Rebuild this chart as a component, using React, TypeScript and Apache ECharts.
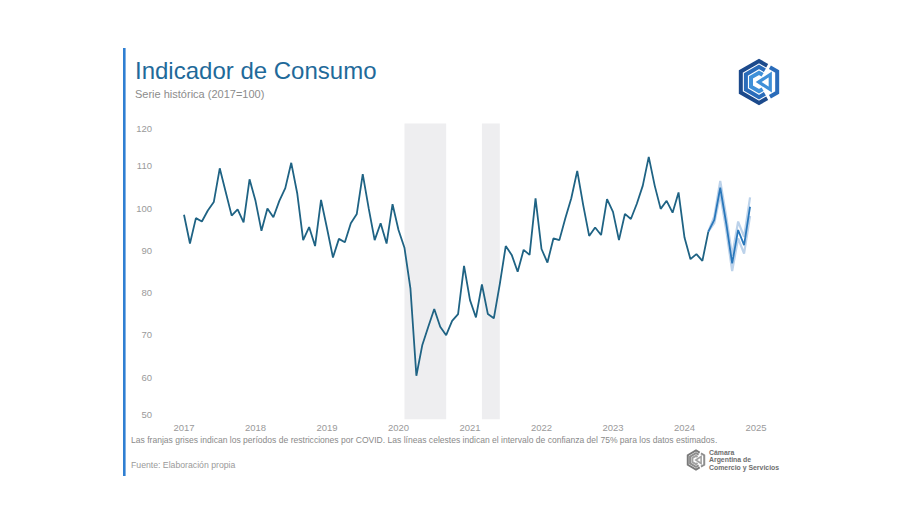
import React, { useEffect, useRef } from "react";
import * as echarts from "echarts";

// Monthly index, Jan 2017 – Dec 2024 (2017 = 100)
const values2017: number[] = [98.4, 91.6, 97.6, 96.8, 99.4, 101.4, 109.4, 103.8, 98.2, 99.7, 96.6, 106.8];
const values2018: number[] = [101.7, 94.6, 99.9, 97.8, 101.7, 104.7, 110.7, 103.5, 92.4, 95.5, 91.0, 101.9];
const values2019: number[] = [95.2, 88.3, 92.7, 91.9, 96.4, 98.6, 108.0, 99.9, 92.4, 96.4, 91.6, 100.9];
const values2020: number[] = [94.8, 90.6, 81.0, 60.3, 67.6, 71.9, 76.1, 71.9, 69.9, 73.3, 74.9, 86.3];
const values2021: number[] = [78.2, 74.1, 81.9, 74.9, 73.9, 82.0, 91.0, 88.9, 84.9, 90.1, 88.9, 102.3];
const values2022: number[] = [90.3, 87.1, 92.8, 92.4, 97.6, 102.3, 108.8, 100.7, 93.4, 95.4, 93.6, 102.1];
const values2023: number[] = [99.1, 92.4, 98.6, 97.4, 101.0, 105.3, 112.1, 105.3, 99.8, 101.7, 98.9, 103.7];
const values2024: number[] = [93.0, 87.9, 89.1, 87.5, 94.4, 97.2, 104.8, 96.4, 86.9, 94.8, 91.2, 100.3];

// Estimated months (May–Dec 2024) and their 75% confidence interval
const estimatedStart = "2024-05";
const upper75: number[] = [94.4, 98.0, 106.4, 98.0, 88.7, 96.8, 93.2, 102.5];
const lower75: number[] = [94.4, 96.4, 103.2, 94.8, 85.1, 92.8, 89.2, 98.1];

// COVID restriction periods
const covidPeriods: [string, string][] = [
  ["2020-02", "2020-09"],
  ["2021-03", "2021-06"],
];

const yTicks = { min: 50, max: 120, step: 10 };

const values: number[] = [
  ...values2017, ...values2018, ...values2019, ...values2020,
  ...values2021, ...values2022, ...values2023, ...values2024,
];

const months: string[] = [];
for (let y = 2017; y <= 2025; y++) {
  for (let m = 1; m <= 12; m++) {
    if (y === 2025 && m > 1) break;
    months.push(`${y}-${String(m).padStart(2, "0")}`);
  }
}

const FONT = "'Liberation Sans', Arial, sans-serif";

function hexPoints(cx: number, cy: number, r: number): number[][] {
  // pointy-top hexagon: top, upper-right, lower-right, bottom, lower-left, upper-left
  const w = r * Math.cos(Math.PI / 6);
  return [
    [cx, cy - r],
    [cx + w, cy - r / 2],
    [cx + w, cy + r / 2],
    [cx, cy + r],
    [cx - w, cy + r / 2],
    [cx - w, cy - r / 2],
  ];
}

function cStripe(cx: number, cy: number, r: number) {
  const p = hexPoints(cx, cy, r);
  const t = 0.45;
  const startX = p[0][0] + (p[1][0] - p[0][0]) * t;
  const startY = p[0][1] + (p[1][1] - p[0][1]) * t;
  const endX = p[3][0] + (p[2][0] - p[3][0]) * t;
  const endY = p[3][1] + (p[2][1] - p[3][1]) * t;
  return [[startX, startY], p[0], p[5], p[4], p[3], [endX, endY]];
}

function logoElements(cx: number, cy: number, r: number, colors: string[], lw: number) {
  const els: any[] = [];
  const radii = [r, r * 0.72, r * 0.44];
  radii.forEach((rr, k) => {
    els.push({
      type: "polyline",
      shape: { points: cStripe(cx, cy, rr) },
      style: { stroke: colors[k], lineWidth: lw, fill: null, lineJoin: "miter" },
      silent: true,
    });
  });
  const p = hexPoints(cx, cy, r);
  els.push({
    type: "polyline",
    shape: {
      points: [
        [p[0][0] + (p[1][0] - p[0][0]) * 0.6, p[0][1] + (p[1][1] - p[0][1]) * 0.6],
        p[1], p[2],
        [p[3][0] + (p[2][0] - p[3][0]) * 0.6, p[3][1] + (p[2][1] - p[3][1]) * 0.6],
      ],
    },
    style: { stroke: colors[1], lineWidth: lw, fill: null, lineJoin: "miter" },
    silent: true,
  });
  const w = r * Math.cos(Math.PI / 6);
  els.push({
    type: "polygon",
    shape: {
      points: [
        [cx + w * 0.62, cy - r * 0.36],
        [cx + w * 0.62, cy + r * 0.36],
        [cx - w * 0.02, cy],
      ],
    },
    style: { stroke: colors[2], lineWidth: lw * 0.8, fill: null, lineJoin: "miter" },
    silent: true,
  });
  return els;
}

export default function App() {
  const ref = useRef<HTMLDivElement>(null);

  useEffect(() => {
    if (!ref.current) return;
    const chart = echarts.init(ref.current, undefined, { renderer: "svg" });

    const estIdx = months.indexOf(estimatedStart);
    const observed = values.map((v, i) => (i <= estIdx ? v : null));
    const estimated = values.map((v, i) => (i >= estIdx ? v : null));
    const upper = months.map((_, i) => (i >= estIdx && i - estIdx < upper75.length ? upper75[i - estIdx] : null));
    const lower = months.map((_, i) => (i >= estIdx && i - estIdx < lower75.length ? lower75[i - estIdx] : null));

    const option: any = {
      animation: false,
      backgroundColor: "#ffffff",
      textStyle: { fontFamily: FONT },
      grid: { left: 184, right: 156, top: 123.5, bottom: 93.7, containLabel: false },
      xAxis: {
        type: "category",
        data: months,
        boundaryGap: false,
        axisLine: { show: false },
        axisTick: { show: false },
        splitLine: { show: false },
        axisLabel: {
          interval: (i: number) => i % 12 === 0,
          formatter: (v: string) => v.slice(0, 4),
          color: "#9a9a9a",
          fontSize: 9.5,
          margin: 3,
          fontFamily: FONT,
        },
      },
      yAxis: {
        type: "value",
        min: yTicks.min,
        max: yTicks.max,
        interval: yTicks.step,
        axisLine: { show: false },
        axisTick: { show: false },
        splitLine: { show: false },
        axisLabel: {
          color: "#9a9a9a",
          fontSize: 9.5,
          margin: 32,
          fontFamily: FONT,
          verticalAlignMaxLabel: "top",
          verticalAlignMinLabel: "bottom",
        },
      },
      series: [
        {
          name: "Límite superior",
          type: "line",
          data: upper,
          symbol: "none",
          lineStyle: { color: "#bcd2ea", width: 2.2 },
          z: 2,
          silent: true,
        },
        {
          name: "Límite inferior",
          type: "line",
          data: lower,
          symbol: "none",
          lineStyle: { color: "#bcd2ea", width: 2.2 },
          z: 2,
          silent: true,
        },
        {
          name: "Indicador de Consumo",
          type: "line",
          data: observed,
          symbol: "none",
          lineStyle: { color: "#1f6384", width: 1.8 },
          z: 3,
          markArea: {
            silent: true,
            itemStyle: { color: "#eeeef0" },
            data: covidPeriods.map(([a, b]) => [{ xAxis: a }, { xAxis: b }]),
          },
        },
        {
          name: "Estimado",
          type: "line",
          data: estimated,
          symbol: "none",
          lineStyle: { color: "#2a78bb", width: 1.8 },
          z: 4,
        },
      ],
      graphic: [
        {
          type: "rect",
          shape: { x: 123, y: 48, width: 2.6, height: 428 },
          style: { fill: "#2f7fd2" },
          silent: true,
        },
        {
          type: "text",
          x: 135,
          y: 70,
          style: {
            text: "Indicador de Consumo",
            fill: "#1f6a9a",
            font: `24px ${FONT}`,
            textVerticalAlign: "middle",
          },
          silent: true,
        },
        {
          type: "text",
          x: 135,
          y: 94,
          style: {
            text: "Serie histórica (2017=100)",
            fill: "#8c8c8c",
            font: `11px ${FONT}`,
            textVerticalAlign: "middle",
          },
          silent: true,
        },
        {
          type: "text",
          x: 131,
          y: 440,
          style: {
            text:
              "Las franjas grises indican los períodos de restricciones por COVID. Las líneas celestes indican el intervalo de confianza del 75% para los datos estimados.",
            fill: "#8a8a8a",
            font: `8.55px ${FONT}`,
            textVerticalAlign: "middle",
          },
          silent: true,
        },
        {
          type: "text",
          x: 131,
          y: 465,
          style: {
            text: "Fuente: Elaboración propia",
            fill: "#9a9a9a",
            font: `8.7px ${FONT}`,
            textVerticalAlign: "middle",
          },
          silent: true,
        },
        ...logoElements(759, 82, 21, ["#1c4a8c", "#2a6cba", "#3f90d8"], 4),
        ...logoElements(696, 460, 9.5, ["#7a7a7a", "#8e8e8e", "#a2a2a2"], 2),
        {
          type: "text",
          x: 709,
          y: 452,
          style: { text: "Cámara", fill: "#6e6e6e", font: `bold 6.9px ${FONT}`, textVerticalAlign: "middle" },
          silent: true,
        },
        {
          type: "text",
          x: 709,
          y: 459.5,
          style: { text: "Argentina de", fill: "#6e6e6e", font: `bold 6.9px ${FONT}`, textVerticalAlign: "middle" },
          silent: true,
        },
        {
          type: "text",
          x: 709,
          y: 467,
          style: { text: "Comercio y Servicios", fill: "#6e6e6e", font: `bold 6.9px ${FONT}`, textVerticalAlign: "middle" },
          silent: true,
        },
      ],
    };

    chart.setOption(option);
    return () => chart.dispose();
  }, []);

  return (
    <div
      ref={ref}
      style={{ position: "absolute", left: 0, top: 0, width: 912, height: 513, background: "#fff" }}
    />
  );
}
